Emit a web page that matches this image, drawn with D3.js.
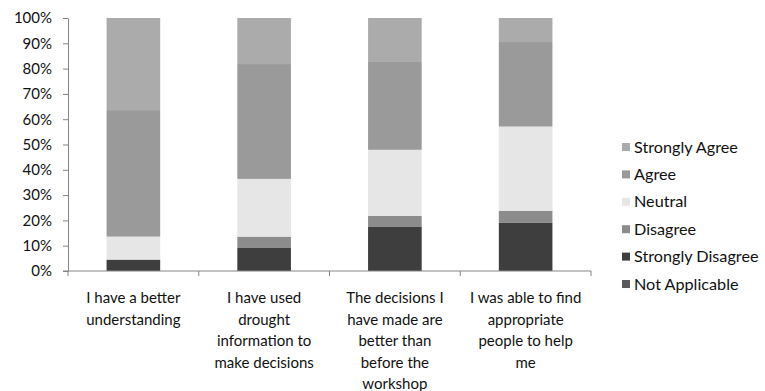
<!DOCTYPE html>
<html>
<head>
<meta charset="utf-8">
<script src="https://cdn.jsdelivr.net/npm/d3@7"></script>
<style>
  html, body { margin: 0; padding: 0; background: #fff; }
  svg text { font-family: Lato, "Open Sans", sans-serif; fill: #111; }
</style>
</head>
<body>
<svg id="chart" width="765" height="391"></svg>
<script>
// Survey statements (x-axis categories), each wrapped onto several lines
const categories = [
  "I have a better understanding",
  "I have used drought information to make decisions",
  "The decisions I have made are better than before the workshop",
  "I was able to find appropriate people to help me"
];
const categoryLines = [
  ["I have a better", "understanding"],
  ["I have used", "drought", "information to", "make decisions"],
  ["The decisions I", "have made are", "better than", "before the", "workshop"],
  ["I was able to find", "appropriate", "people to help", "me"]
];

// Response shares (percent), stacked bottom to top
const responses = ["Not Applicable", "Strongly Disagree", "Disagree", "Neutral", "Agree", "Strongly Agree"];
const notApplicable    = [0,    0,    0,    0];
const stronglyDisagree = [4.5,  9.1,  17.4, 19.0];
const disagree         = [0,    4.5,  4.4,  4.8];
const neutral          = [9.1,  22.8, 26.1, 33.3];
const agree            = [50.0, 45.4, 34.7, 33.4];
const stronglyAgree    = [36.4, 18.2, 17.4, 9.5];

const yTicks = [0, 10, 20, 30, 40, 50, 60, 70, 80, 90, 100];

const fills = {
  "Not Applicable":    "#5a5a5a",
  "Strongly Disagree": "#3e3e3e",
  "Disagree":          "#8c8c8c",
  "Neutral":           "#e6e6e6",
  "Agree":             "#9a9a9a",
  "Strongly Agree":    "#ababab"
};

const seriesValues = {
  "Not Applicable": notApplicable,
  "Strongly Disagree": stronglyDisagree,
  "Disagree": disagree,
  "Neutral": neutral,
  "Agree": agree,
  "Strongly Agree": stronglyAgree
};

const rows = categories.map((c, i) => {
  const r = { category: c };
  responses.forEach(k => { r[k] = seriesValues[k][i]; });
  return r;
});

const svg = d3.select("#chart");
const plot = { left: 68, right: 591, top: 18, bottom: 271 };

const x = d3.scaleBand()
  .domain(categories)
  .range([plot.left, plot.right])
  .paddingInner(0.59)
  .paddingOuter(0.295);

const y = d3.scaleLinear().domain([0, 100]).range([plot.bottom, plot.top]);

const stack = d3.stack().keys(responses);
const layers = stack(rows);

// Stacked bars
svg.append("g")
  .selectAll("g")
  .data(layers)
  .join("g")
  .attr("fill", d => fills[d.key])
  .selectAll("rect")
  .data(d => d)
  .join("rect")
  .attr("x", d => x(d.data.category))
  .attr("width", x.bandwidth())
  .attr("y", d => y(d[1]))
  .attr("height", d => y(d[0]) - y(d[1]));

// Y axis
const yAxis = svg.append("g")
  .attr("transform", `translate(${plot.left},0)`)
  .call(d3.axisLeft(y).tickValues(yTicks).tickFormat(d => d + "%").tickSize(5).tickPadding(11).tickSizeOuter(0));
yAxis.selectAll("path, line").attr("stroke", "#858585");
yAxis.selectAll("text").style("font-size", "15px").style("font-family", "Lato, sans-serif").attr("fill", "#111");

// X axis: baseline with ticks at category boundaries
const xAxis = svg.append("g");
xAxis.append("line")
  .attr("x1", plot.left - 5).attr("x2", plot.right)
  .attr("y1", plot.bottom).attr("y2", plot.bottom)
  .attr("stroke", "#858585");
const step = x.step();
const boundaries = d3.range(categories.length + 1).map(i => plot.left + i * step);
xAxis.selectAll("line.tick")
  .data(boundaries)
  .join("line")
  .attr("class", "tick")
  .attr("x1", d => d).attr("x2", d => d)
  .attr("y1", plot.bottom).attr("y2", plot.bottom + 5)
  .attr("stroke", "#858585");

// Category labels
const labels = svg.append("g")
  .selectAll("text")
  .data(categories)
  .join("text")
  .attr("text-anchor", "middle")
  .style("font-size", "15px")
  .attr("transform", d => `translate(${x(d) + x.bandwidth() / 2},303)`);
labels.selectAll("tspan")
  .data((d, i) => categoryLines[i])
  .join("tspan")
  .attr("x", 0)
  .attr("y", (d, i) => i * 21.6)
  .text(d => d);

// Legend, listed top stack segment first
const legendKeys = responses.slice().reverse();
const legend = svg.append("g")
  .selectAll("g")
  .data(legendKeys)
  .join("g")
  .attr("transform", (d, i) => `translate(622,${147 + i * 27.4})`);
legend.append("rect")
  .attr("x", 0).attr("y", -4)
  .attr("width", 8).attr("height", 8)
  .attr("fill", d => fills[d]);
legend.append("text")
  .attr("x", 12).attr("dy", "0.35em")
  .style("font-size", "16.2px")
  .text(d => d);
</script>
</body>
</html>
